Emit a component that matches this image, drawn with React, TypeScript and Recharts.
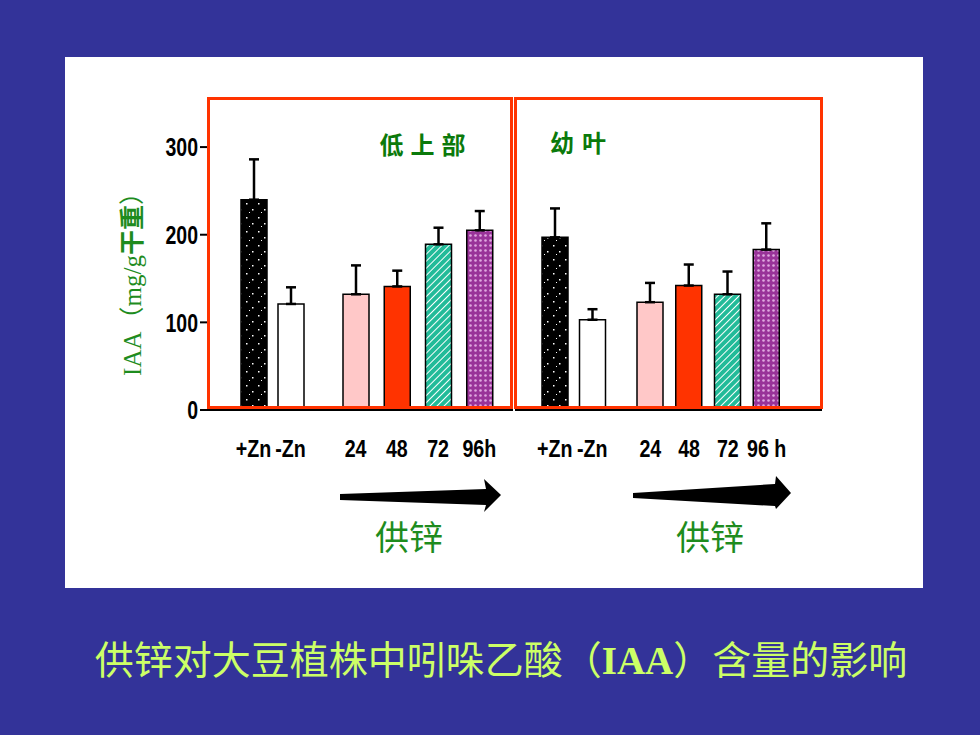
import { BarChart, Bar, XAxis, YAxis, Cell, ErrorBar } from 'recharts';

// 低上部 / 幼叶, IAA (mg/g 干重)
const controlLabels = ['+Zn', '-Zn'];
const lowerTimeLabels = ['24', '48', '72', '96h'];
const leafTimeLabels = ['24', '48', '72', '96 h'];

const lowerControl = [240, 121];
const lowerControlErr = [46, 19];
const lowerTime = [132, 141, 189, 205];
const lowerTimeErr = [33, 18, 19, 22];

const leafControl = [197, 103];
const leafControlErr = [33, 12];
const leafTime = [123, 142, 132, 183];
const leafTimeErr = [22, 24, 26, 30];

const yTicks = [0, 100, 200, 300];
const yMinorTicks = [50, 150, 250];
const rightTicks = [50, 100, 150, 200, 250, 300];

const controlFills = ['url(#speckle)', '#ffffff'];
const timeFills = ['#ffc8c8', '#ff3300', 'url(#hatch)', 'url(#dots)'];

const SANS = "'Liberation Sans', Arial, sans-serif";
const DOMAIN: [number, number] = [0, 356];

const makeRows = (labels: string[], values: number[], errs: number[]) =>
  labels.map((label, i) => ({ label, value: values[i], err: [0, errs[i]] }));

// narrow, tall glyphs like the scanned figure
function XTick(props: any) {
  const { x, y, payload } = props;
  return (
    <text
      transform={`translate(${x},${y - 1}) scale(0.82,1)`}
      textAnchor="middle"
      dy="0.71em"
      fontSize={24}
      fontWeight="bold"
      fontFamily={SANS}
      fill="#000"
    >
      {payload.value}
    </text>
  );
}

function YTick(props: any) {
  const { x, y, payload } = props;
  return (
    <text
      transform={`translate(${x},${y}) scale(0.75,1)`}
      textAnchor="end"
      dy="0.36em"
      fontSize={26}
      fontWeight="bold"
      fontFamily={SANS}
      fill="#000"
    >
      {payload.value}
    </text>
  );
}

interface GroupProps {
  rows: { label: string; value: number; err: number[] }[];
  fills: string[];
  left: number;
  plotWidth: number;
  pad: { left: number; right: number };
  yAxis?: boolean;
  rightAxis?: boolean;
}

function Group({ rows, fills, left, plotWidth, pad, yAxis, rightAxis }: GroupProps) {
  const axisW = yAxis ? 60 : 0;
  return (
    <div style={{ position: 'absolute', left: left - axisW, top: 88 }}>
      <BarChart
        width={plotWidth + axisW}
        height={382}
        data={rows}
        margin={{ top: 10, right: 0, bottom: 0, left: 0 }}
      >
        <XAxis
          dataKey="label"
          padding={pad}
          height={60}
          interval={0}
          axisLine={{ stroke: '#000', strokeWidth: 2 }}
          tickLine={false}
          tickSize={0}
          tickMargin={31}
          tick={<XTick />}
        />
        <YAxis
          domain={DOMAIN}
          ticks={yTicks}
          hide={!yAxis}
          width={axisW}
          allowDataOverflow
          axisLine={{ stroke: '#000', strokeWidth: 2 }}
          tickLine={{ stroke: '#000', strokeWidth: 2 }}
          tickSize={8}
          tickMargin={2}
          tick={<YTick />}
        />
        {yAxis && (
          <YAxis
            yAxisId="minor"
            domain={DOMAIN}
            ticks={yMinorTicks}
            width={0}
            allowDataOverflow
            axisLine={false}
            tickLine={{ stroke: '#000', strokeWidth: 2 }}
            tickSize={3}
            tickFormatter={() => ''}
          />
        )}
        {rightAxis && (
          <YAxis
            yAxisId="right"
            orientation="right"
            mirror
            domain={DOMAIN}
            ticks={rightTicks}
            width={0}
            allowDataOverflow
            axisLine={false}
            tickLine={{ stroke: '#000', strokeWidth: 2 }}
            tickSize={5}
            tickFormatter={() => ''}
          />
        )}
        <Bar dataKey="value" barSize={26} stroke="#000" strokeWidth={1.5} isAnimationActive={false}>
          {rows.map((r, i) => (
            <Cell key={r.label} fill={fills[i]} />
          ))}
          <ErrorBar dataKey="err" direction="y" width={5} stroke="#000" strokeWidth={2.5} />
        </Bar>
      </BarChart>
    </div>
  );
}

export default function App() {
  return (
    <div
      style={{
        position: 'fixed',
        left: 0,
        top: 0,
        width: 980,
        height: 735,
        background: '#333399',
        overflow: 'hidden',
      }}
    >
      <svg width="0" height="0" style={{ position: 'absolute' }}>
        <defs>
          <pattern id="speckle" width="12" height="14" patternUnits="userSpaceOnUse">
            <rect width="12" height="14" fill="#000" />
            <rect x="2" y="3" width="1.5" height="1.5" fill="#fff" />
            <rect x="8" y="9" width="1.5" height="1.5" fill="#fff" />
            <rect x="5" y="12" width="1" height="1" fill="#fff" />
          </pattern>
          <pattern id="hatch" width="5" height="5" patternUnits="userSpaceOnUse" patternTransform="rotate(45)">
            <rect width="5" height="5" fill="#22bb99" />
            <line x1="0" y1="0" x2="0" y2="5" stroke="#fff" strokeWidth="2" />
          </pattern>
          <pattern id="dots" width="5" height="5" patternUnits="userSpaceOnUse">
            <rect width="5" height="5" fill="#993399" />
            <circle cx="2.5" cy="2.5" r="1.3" fill="#e0a8e0" />
          </pattern>
        </defs>
      </svg>

      <div
        style={{ position: 'absolute', left: 65, top: 57, width: 858, height: 531, background: '#fff' }}
      />

      <svg
        width={980}
        height={735}
        style={{ position: 'absolute', left: 0, top: 0, pointerEvents: 'none' }}
      >
        <polygon points="340,494 486,489 484,479 501,495 484,512 486,505 340,500" fill="#000" />
        <polygon points="633,493 775,484 776,476 791,493 776,509 775,506 633,498" fill="#000" />
        <text x={409} y={535} textAnchor="middle" dominantBaseline="central" fontSize={34}
          fontFamily="'Noto Sans CJK SC', sans-serif" fill="#1e8c1e">供锌</text>
        <text x={710} y={535} textAnchor="middle" dominantBaseline="central" fontSize={34}
          fontFamily="'Noto Sans CJK SC', sans-serif" fill="#1e8c1e">供锌</text>
        <text
          x={132}
          y={278}
          transform="rotate(-90 132 278)"
          textAnchor="middle"
          dominantBaseline="central"
          fontSize={25}
          fontFamily="'Liberation Serif', 'Noto Sans CJK SC', serif"
          fill="#1e8c1e"
        >
          IAA（mg/g<tspan fontWeight="bold">干重</tspan>）
        </text>
        <text x={501} y={660} textAnchor="middle" dominantBaseline="central" fontSize={39}
          fontFamily="'Liberation Serif', 'Noto Sans CJK SC', serif" fill="#ccff66">
          供锌对大豆植株中吲哚乙酸（<tspan fontWeight="bold">IAA</tspan>）含量的影响
        </text>
      </svg>

      <Group rows={makeRows(controlLabels, lowerControl, lowerControlErr)} fills={controlFills}
        left={208} plotWidth={115} pad={{ left: 27, right: 14 }} yAxis />
      <Group rows={makeRows(lowerTimeLabels, lowerTime, lowerTimeErr)} fills={timeFills}
        left={323} plotWidth={190} pad={{ left: 12, right: 13 }} />
      <Group rows={makeRows(controlLabels, leafControl, leafControlErr)} fills={controlFills}
        left={515} plotWidth={106} pad={{ left: 21, right: 10 }} />
      <Group rows={makeRows(leafTimeLabels, leafTime, leafTimeErr)} fills={timeFills}
        left={621} plotWidth={201} pad={{ left: 10, right: 36 }} rightAxis />

      <div style={{ position: 'absolute', left: 207, top: 97, width: 306, height: 312,
        border: '3px solid #ff3300', boxSizing: 'border-box', pointerEvents: 'none' }} />
      <div style={{ position: 'absolute', left: 514, top: 97, width: 309, height: 312,
        border: '3px solid #ff3300', boxSizing: 'border-box', pointerEvents: 'none' }} />

      <svg width={980} height={735}
        style={{ position: 'absolute', left: 0, top: 0, pointerEvents: 'none' }}>
        <text x={426} y={143} textAnchor="middle" dominantBaseline="central" fontSize={24}
          fontWeight="bold" letterSpacing={7} fontFamily="'Noto Sans CJK SC', sans-serif" fill="#0b7a0b">低上部</text>
        <text x={582} y={141} textAnchor="middle" dominantBaseline="central" fontSize={24}
          fontWeight="bold" letterSpacing={8} fontFamily="'Noto Sans CJK SC', sans-serif" fill="#0b7a0b">幼叶</text>
      </svg>
    </div>
  );
}
